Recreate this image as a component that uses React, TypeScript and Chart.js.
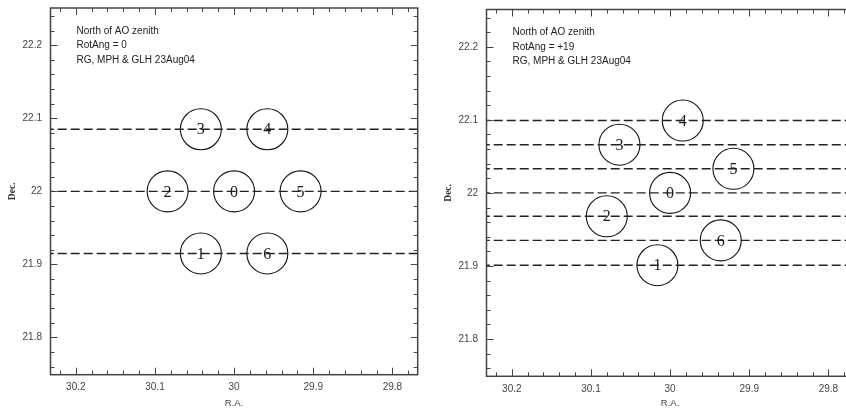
import React, { useEffect, useRef } from 'react';
import { Chart, registerables } from 'chart.js';
Chart.register(...registerables);

// Axis ranges (R.A. reversed)
const raMin = 29.768;
const raMax = 30.232;
const decMin = 21.749;
const decMax = 22.251;

// Tick labels
const xTickValues = [30.2, 30.1, 30.0, 29.9, 29.8];
const yTickValues = [21.8, 21.9, 22.0, 22.1, 22.2];
const minorStep = 0.02;

// Beam labels
const beamLabels = ['0', '1', '2', '3', '4', '5', '6'];

// Left panel: RotAng = 0
const leftRA = [30.0, 30.042, 30.084, 30.042, 29.958, 29.916, 29.958];
const leftDec = [22.0, 21.915, 22.0, 22.085, 22.085, 22.0, 21.915];
const leftLines = [22.085, 22.0, 21.915];
const leftNotes = ['North of AO zenith', 'RotAng = 0', 'RG, MPH & GLH 23Aug04'];

// Right panel: RotAng = +19
const rightRA = [30.0, 30.016, 30.08, 30.064, 29.984, 29.92, 29.936];
const rightDec = [22.0, 21.901, 21.968, 22.066, 22.099, 22.033, 21.935];
const rightLines = [22.099, 22.066, 22.033, 22.0, 21.968, 21.935, 21.901];
const rightNotes = ['North of AO zenith', 'RotAng = +19', 'RG, MPH & GLH 23Aug04'];

const fmt = (v: number) => String(Math.round(v * 10) / 10);

const zeroPad = (s: any) => {
  s.paddingTop = 0;
  s.paddingBottom = 0;
  s.paddingLeft = 0;
  s.paddingRight = 0;
};

function makePlugin(labels: string[], notes: string[]) {
  return {
    id: 'panelDecor',
    afterDatasetsDraw(chart: any) {
      const { ctx, chartArea: a, scales } = chart;
      const x = scales.x;
      const y = scales.y;
      ctx.save();
      // circle labels
      const meta = chart.getDatasetMeta(chart.data.datasets.length - 1);
      ctx.fillStyle = '#1a1a1a';
      ctx.font = '16px "Liberation Serif"';
      ctx.textAlign = 'center';
      ctx.textBaseline = 'middle';
      meta.data.forEach((pt: any, i: number) => {
        ctx.fillText(labels[i], pt.x, pt.y + 1);
      });
      // notes
      ctx.font = '10px "Liberation Sans"';
      ctx.textAlign = 'left';
      ctx.fillStyle = '#222';
      notes.forEach((t, i) => ctx.fillText(t, a.left + 26, a.top + 23 + i * 14.5));
      // ticks
      ctx.strokeStyle = '#444';
      ctx.lineWidth = 1;
      const seg = (x1: number, y1: number, x2: number, y2: number) => {
        ctx.beginPath();
        ctx.moveTo(x1, y1);
        ctx.lineTo(x2, y2);
        ctx.stroke();
      };
      for (let k = Math.ceil(raMin / minorStep - 1e-9); k * minorStep <= raMax + 1e-9; k++) {
        const v = k * minorStep;
        const len = k % 5 === 0 ? 7 : 4;
        const px = Math.round(x.getPixelForValue(v)) + 0.5;
        seg(px, a.bottom, px, a.bottom - len);
        seg(px, a.top, px, a.top + len);
      }
      for (let k = Math.ceil(decMin / minorStep - 1e-9); k * minorStep <= decMax + 1e-9; k++) {
        const v = k * minorStep;
        const len = k % 5 === 0 ? 7 : 4;
        const py = Math.round(y.getPixelForValue(v)) + 0.5;
        seg(a.left, py, a.left + len, py);
        seg(a.right, py, a.right - len, py);
      }
      // border
      ctx.lineWidth = 1.5;
      ctx.strokeStyle = '#444';
      ctx.strokeRect(a.left, a.top, a.right - a.left, a.bottom - a.top);
      ctx.restore();
    },
  };
}

function Panel(props: {
  ra: number[];
  dec: number[];
  lines: number[];
  notes: string[];
  left: number;
  padTop: number;
  xHeight: number;
}) {
  const ref = useRef<HTMLCanvasElement | null>(null);
  useEffect(() => {
    if (!ref.current) return;
    const { ra, dec, lines, notes, padTop, xHeight } = props;
    const chart = new Chart(ref.current, {
      type: 'scatter',
      data: {
        datasets: [
          ...lines.map((d) => ({
            type: 'line' as const,
            data: [
              { x: raMin, y: d },
              { x: raMax, y: d },
            ],
            borderColor: '#222',
            borderWidth: 1.4,
            borderDash: [9, 4],
            pointRadius: 0,
            fill: false,
          })),
          {
            type: 'scatter' as const,
            data: ra.map((v, i) => ({ x: v, y: dec[i] })),
            pointRadius: 20.5,
            pointHoverRadius: 20.5,
            borderColor: '#111',
            borderWidth: 1.1,
            backgroundColor: 'rgba(0,0,0,0)',
          },
        ],
      } as any,
      options: {
        responsive: false,
        animation: false,
        events: [],
        layout: { autoPadding: false, padding: { top: padTop, right: 5.3, left: 0, bottom: 0 } },
        plugins: { legend: { display: false }, tooltip: { enabled: false } },
        scales: {
          x: {
            type: 'linear',
            reverse: true,
            min: raMin,
            max: raMax,
            afterFit: (s: any) => {
              s.height = xHeight;
              zeroPad(s);
            },
            afterBuildTicks: (s: any) => {
              s.ticks = xTickValues.map((v) => ({ value: v }));
            },
            grid: { display: false, drawTicks: false },
            border: { display: false },
            ticks: {
              font: { family: 'Liberation Sans', size: 10 },
              color: '#444',
              padding: 7,
              maxRotation: 0,
              autoSkip: false,
              callback: (v: any) => fmt(Number(v)),
            },
            title: {
              display: true,
              text: 'R.A.',
              color: '#444',
              font: { family: 'Liberation Sans', size: 9.5 },
              padding: { top: 0, bottom: 3 },
            },
          },
          y: {
            type: 'linear',
            min: decMin,
            max: decMax,
            afterFit: (s: any) => {
              s.width = 50.5;
              zeroPad(s);
            },
            afterBuildTicks: (s: any) => {
              s.ticks = yTickValues.map((v) => ({ value: v }));
            },
            grid: { display: false, drawTicks: false },
            border: { display: false },
            ticks: {
              font: { family: 'Liberation Sans', size: 10 },
              color: '#444',
              padding: 8.5,
              autoSkip: false,
              callback: (v: any) => fmt(Number(v)),
            },
            title: {
              display: true,
              text: 'Dec.',
              color: '#333',
              font: { family: 'Liberation Serif', size: 9.5, weight: 'bold' },
              padding: { top: 7, bottom: 0 },
            },
          },
        },
      } as any,
      plugins: [makePlugin(beamLabels, notes)],
    });
    return () => chart.destroy();
  }, []);
  return (
    <canvas
      ref={ref}
      width={423}
      height={412}
      style={{ position: 'absolute', left: props.left, top: 0, width: 423, height: 412 }}
    />
  );
}

export default function App() {
  return (
    <div
      style={{
        position: 'fixed',
        left: 0,
        top: 0,
        width: 846,
        height: 412,
        overflow: 'hidden',
        background: '#fff',
      }}
    >
      <Panel ra={leftRA} dec={leftDec} lines={leftLines} notes={leftNotes} left={0} padTop={8} xHeight={37.3} />
      <Panel ra={rightRA} dec={rightDec} lines={rightLines} notes={rightNotes} left={436} padTop={9.5} xHeight={35.7} />
    </div>
  );
}
